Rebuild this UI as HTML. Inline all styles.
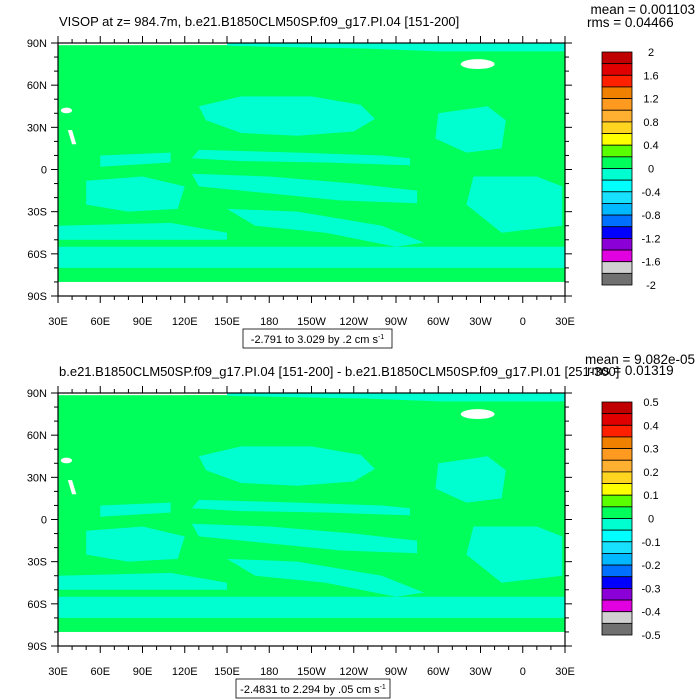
<!DOCTYPE html>
<html><head><meta charset="utf-8"><style>
html,body{margin:0;padding:0;background:#fff;}
svg{display:block;font-family:"Liberation Sans",sans-serif;}
</style></head><body>
<svg id="fig" width="700" height="700" viewBox="0 0 700 700"></svg>
<script>
const NS='http://www.w3.org/2000/svg';
const latTicks=['90N','60N','30N','0','30S','60S','90S'];
const latVals=[90,60,30,0,-30,-60,-90];
const lonTicks=['30E','60E','90E','120E','150E','180','150W','120W','90W','60W','30W','0','30E'];
const lonVals=[30,60,90,120,150,180,210,240,270,300,330,360,390];
const cbColors=['#c00000','#e00000','#ff2000','#f08000','#ff9a20','#ffb030','#ffd520','#ffff00','#5aff00','#00ff5a','#00ffd0','#00ffff','#18e0ff','#00b8ff','#0070ff','#0000ff','#8c00d8','#e000e0','#d0d0d0','#707070'];
const cbLabels1=['2','1.6','1.2','0.8','0.4','0','-0.4','-0.8','-1.2','-1.6','-2'];
const cbLabels2=['0.5','0.4','0.3','0.2','0.1','0','-0.1','-0.2','-0.3','-0.4','-0.5'];
const cyanRegions=[
 [[150,90],[390,90],[390,84],[300,84],[250,86],[150,88]],
 [[130,45],[160,52],[210,52],[245,46],[255,36],[240,27],[200,24],[160,26],[135,35]],
 [[130,14],[200,12],[260,10],[280,8],[280,3],[220,5],[160,6],[125,8]],
 [[125,-3],[180,-5],[240,-10],[285,-15],[285,-24],[230,-22],[180,-17],[130,-12]],
 [[50,-8],[90,-5],[120,-12],[115,-28],[80,-30],[50,-25]],
 [[150,-28],[200,-30],[260,-40],[290,-52],[270,-55],[220,-45],[170,-40]],
 [[300,40],[335,45],[348,35],[345,15],[320,12],[298,22]],
 [[325,-5],[370,-5],[388,-12],[388,-40],[345,-45],[320,-25]],
 [[30,-55],[390,-55],[390,-70],[30,-70]],
 [[30,-40],[110,-38],[150,-45],[150,-50],[30,-50]],
 [[60,10],[110,12],[110,5],[60,2]],
];
const whiteRegions=[
 {type:'ell',lon:328,lat:75,rx:12,ry:3.5},
 {type:'ell',lon:36,lat:42,rx:4,ry:2}
];
function el(tag,attrs,parent,name,inter){const e=document.createElementNS(NS,tag);for(const k in attrs)e.setAttribute(k,attrs[k]);
 
 
 (parent||document.getElementById('fig')).appendChild(e);return e;}
function txt(s,x,y,size,anchor,parent,name){const t=el('text',{x:x,y:y,'font-size':size,'text-anchor':anchor||'start',fill:'#000'},parent,name,false);t.textContent=s;return t;}
function panel(top,title,mean,rms,rmsY,cbLabels,boxText,boxX,boxW){
 const L=58,R=565,T=top,B=top+253;
 const X=lon=>L+(lon-30)/360*(R-L);
 const Y=lat=>T+(90-lat)/180*(B-T);
 const g=el('g',{},null,'map-panel',false);
 el('rect',{x:L,y:Y(88.5),width:R-L,height:Y(-80)-Y(88.5),fill:'#00ff5a'},g,'ocean-field',false);
 cyanRegions.forEach(p=>{el('polygon',{points:p.map(q=>X(q[0])+','+Y(q[1])).join(' '),fill:'#00ffd0'},g,'negative-region',false);});
 whiteRegions.forEach(w=>{el('ellipse',{cx:X(w.lon),cy:Y(w.lat),rx:w.rx*1.408,ry:w.ry*1.406,fill:'#fff'},g,'land-mask',false);});
 el('polygon',{points:[[37,28],[40,28],[43,18],[40,18]].map(q=>X(q[0])+','+Y(q[1])).join(' '),fill:'#fff'},g,'red-sea-mask',false);
 el('rect',{x:L,y:Y(90),width:(R-L)*0.25,height:Y(88.5)-Y(90),fill:'#fff'},g,'top-mask',false);
 el('rect',{x:L,y:T,width:R-L,height:B-T,fill:'none',stroke:'#000','stroke-width':1.2},g,'plot-frame',false);
 for(let lat=-90;lat<=90;lat+=10){const maj=lat%30===0,len=maj?7:4,y=Y(lat);
  el('line',{x1:L-len,y1:y,x2:L,y2:y,stroke:'#000'},g,'y-tick',false);
  el('line',{x1:R,y1:y,x2:R+len,y2:y,stroke:'#000'},g,'y-tick-right',false);}
 for(let lon=30;lon<=390;lon+=10){const maj=(lon-30)%30===0,len=maj?7:4,x=X(lon);
  el('line',{x1:x,y1:T-len,x2:x,y2:T,stroke:'#000'},g,'x-tick-top',false);
  el('line',{x1:x,y1:B,x2:x,y2:B+len,stroke:'#000'},g,'x-tick',false);}
 latVals.forEach((v,i)=>txt(latTicks[i],L-11,Y(v)+4,11,'end',g,'y-tick-label'));
 lonVals.forEach((v,i)=>txt(lonTicks[i],X(v),B+29,11,'middle',g,'x-tick-label'));
 txt(title,L+1,T-17,13,'start',g,'panel-title');
 txt(mean,695,T-29,13.5,'end',g,'mean-label');
 txt(rms,587,T+rmsY,13.5,'start',g,'rms-label');
 const cbT=T+9,cbB=B-11,n=cbColors.length,h=(cbB-cbT)/n;
 cbColors.forEach((c,i)=>el('rect',{x:602,y:cbT+i*h,width:30,height:h,fill:c,stroke:'#000','stroke-width':0.8},g,'colorbar-box',false));
 cbLabels.forEach((s,i)=>txt(s,651,cbT+i*2*h+4,11,'middle',g,'colorbar-label'));
 el('rect',{x:boxX,y:B+33,width:boxW,height:19,fill:'#fff',stroke:'#000','stroke-width':0.8},g,'range-box',false);
 const t=txt(boxText,boxX+boxW/2,B+47,11,'middle',g,'range-text');
 const sup=document.createElementNS(NS,'tspan');sup.setAttribute('font-size','7');sup.setAttribute('dy','-4');sup.textContent='-1';t.appendChild(sup);
}
panel(43,'VISOP at z= 984.7m, b.e21.B1850CLM50SP.f09_g17.PI.04 [151-200]','mean = 0.001103','rms = 0.04466',-16,cbLabels1,'-2.791 to 3.029 by .2 cm s',243,149);
panel(393,'b.e21.B1850CLM50SP.f09_g17.PI.04 [151-200] - b.e21.B1850CLM50SP.f09_g17.PI.01 [251-300]','mean = 9.082e-05','rms = 0.01319',-18,cbLabels2,'-2.4831 to 2.294 by .05 cm s',236,154);
</script>
</body></html>
